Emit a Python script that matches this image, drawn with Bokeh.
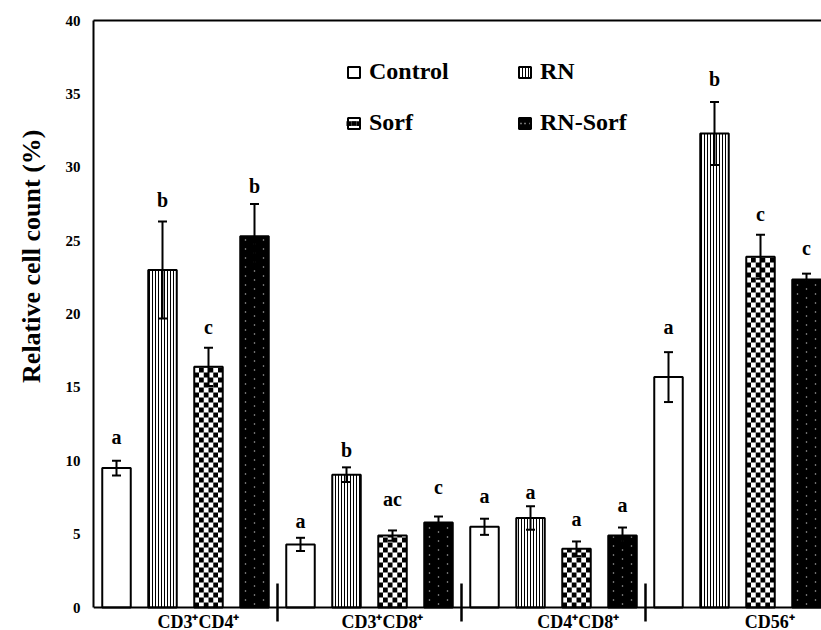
from bokeh.core.properties import value
from bokeh.embed import file_html
from bokeh.models import (ColumnDataSource, FixedTicker, Legend, LegendItem, LinearAxis,
                          Range1d, Span, TeeHead, Title, Whisker)
from bokeh.plotting import figure
from bokeh.resources import INLINE

# ---------------- data ----------------
groups = ["CD3⁺CD4⁺", "CD3⁺CD8⁺", "CD4⁺CD8⁺", "CD56⁺"]
series = ["Control", "RN", "Sorf", "RN-Sorf"]

control = [9.5, 4.3, 5.5, 15.7]
control_err = [0.5, 0.45, 0.55, 1.7]
rn = [23.0, 9.05, 6.1, 32.3]
rn_err = [3.3, 0.5, 0.8, 2.15]
sorf = [16.4, 4.9, 4.0, 23.9]
sorf_err = [1.3, 0.35, 0.5, 1.5]
rnsorf = [25.3, 5.8, 4.9, 22.35]
rnsorf_err = [2.2, 0.4, 0.55, 0.4]

control_sig = ["a", "a", "a", "a"]
rn_sig = ["b", "b", "a", "b"]
sorf_sig = ["c", "ac", "a", "c"]
rnsorf_sig = ["b", "c", "a", "c"]

# heights (in y units) at which the significance letters sit
control_sig_y = [11.6, 5.9, 7.6, 19.1]
rn_sig_y = [27.8, 10.7, 7.85, 36.0]
sorf_sig_y = [19.1, 7.4, 6.05, 26.8]
rnsorf_sig_y = [28.7, 8.2, 7.0, 24.5]

y_ticks = [0, 5, 10, 15, 20, 25, 30, 35, 40]

# --------------- layout constants ---------------
FONT = "Liberation Serif"
PX_PER_X = 46             # one bar slot in pixels
PX_PER_Y = 14.675         # one y unit in pixels
W, H = 821, 630
LEFT, TOP = 93, 20
FRAME_W = W - LEFT
FRAME_H = H - TOP
BAR_PX = 28.5
BAR_W = BAR_PX / PX_PER_X
label_pos = [2.28, 6.28, 10.54, 14.70]   # category label positions (slot units)
sep_pos = [4, 8, 12]                       # separators between groups

y_min = 40 - FRAME_H / PX_PER_Y            # room below zero for the category labels

p = figure(width=W, height=H, output_backend="svg", toolbar_location=None,
           x_range=Range1d(0, FRAME_W / PX_PER_X), y_range=Range1d(y_min, 40),
           min_border_left=LEFT, min_border_right=0, min_border_top=TOP,
           min_border_bottom=0)
p.xgrid.visible = False
p.ygrid.visible = False
p.outline_line_color = None
p.background_fill_color = "white"
p.border_fill_color = "white"

data = [
    (control, control_err, control_sig, control_sig_y),
    (rn, rn_err, rn_sig, rn_sig_y),
    (sorf, sorf_err, sorf_sig, sorf_sig_y),
    (rnsorf, rnsorf_err, rnsorf_sig, rnsorf_sig_y),
]


def pattern_columns(xs, tops, n_cols, col_px, parity):
    """Columns of a fill pattern inside each bar (x from bar centre, height = bar top)."""
    x0, y0, y1 = [], [], []
    for x, t in zip(xs, tops):
        for j in range(n_cols):
            if j % 2 == parity:
                x0.append(x + (j - (n_cols - 1) / 2) * col_px / PX_PER_X)
                y0.append(0)
                y1.append(t)
    return ColumnDataSource(dict(x=x0, y0=y0, y1=y1))


legend_renderers = {}
for k, (name, (vals, errs, sig, sig_y)) in enumerate(zip(series, data)):
    xs = [g * 4 + k + 0.5 for g in range(len(groups))]
    src = ColumnDataSource(dict(
        x=xs, top=vals,
        upper=[v + e for v, e in zip(vals, errs)],
        lower=[v - e for v, e in zip(vals, errs)],
        sig=sig, sig_y=sig_y,
    ))
    rs = []
    if name == "RN":
        rs.append(p.vbar(x="x", top="top", bottom=0, width=BAR_W, source=src,
                         fill_color="white", line_color=None,
                         hatch_pattern="vertical_line", hatch_scale=3,
                         hatch_weight=1, hatch_color="black"))
    elif name == "Sorf":
        rs.append(p.vbar(x="x", top="top", bottom=0, width=BAR_W, source=src,
                         fill_color="white", line_color=None))
        sq = BAR_PX / 6
        for parity, off in ((0, 0), (1, 5)):
            rs.append(p.segment(x0="x", y0="y0", x1="x", y1="y1",
                                source=pattern_columns(xs, vals, 6, sq, parity),
                                line_color="black", line_width=sq,
                                line_dash="5 5", line_dash_offset=off))
    elif name == "RN-Sorf":
        rs.append(p.vbar(x="x", top="top", bottom=0, width=BAR_W, source=src,
                         fill_color="black", line_color=None))
        for parity, off in ((0, 2), (1, 6)):
            rs.append(p.segment(x0="x", y0="y0", x1="x", y1="y1",
                                source=pattern_columns(xs, vals, 3, 9, parity),
                                line_color="#dddddd", line_width=1.3,
                                line_dash="1 8", line_dash_offset=off))
    else:
        rs.append(p.vbar(x="x", top="top", bottom=0, width=BAR_W, source=src,
                         fill_color="white", line_color=None))
    # outline on top of the pattern
    rs.append(p.vbar(x="x", top="top", bottom=0, width=BAR_W, source=src,
                     fill_color=None, line_color="black", line_width=2))
    legend_renderers[name] = rs

    w = Whisker(source=src, base="x", upper="upper", lower="lower",
                line_color="black", line_width=2, level="annotation",
                upper_head=TeeHead(size=9, line_width=2, line_color="black"),
                lower_head=TeeHead(size=9, line_width=2, line_color="black"))
    p.add_layout(w)
    p.text(x="x", y="sig_y", text="sig", source=src, text_font=value(FONT),
           text_font_style="bold", text_font_size="20px", text_align="center",
           text_baseline="middle", text_color="black")

# ---------------- axes ----------------
p.yaxis.ticker = FixedTicker(ticks=y_ticks)
p.yaxis.bounds = (0, 40)
p.yaxis.major_tick_line_color = None
p.yaxis.minor_tick_line_color = None
p.yaxis.major_tick_out = 0
p.yaxis.major_tick_in = 0
p.yaxis.axis_line_width = 2
p.yaxis.axis_line_color = "black"
p.yaxis.major_label_text_font = FONT
p.yaxis.major_label_text_font_style = "bold"
p.yaxis.major_label_text_font_size = "15px"
p.yaxis.major_label_text_color = "black"
p.yaxis.major_label_standoff = 13

# y title, placed in the left border
p.add_layout(Title(text="Relative cell count (%)", align="right", offset=109,
                   vertical_align="top", standoff=29, text_font=FONT,
                   text_font_style="bold", text_font_size="26px",
                   text_color="black"), "left")

p.xaxis.visible = False
p.add_layout(Span(location=0, dimension="width", line_color="black", line_width=2))

top_axis = LinearAxis(ticker=FixedTicker(ticks=[]), axis_line_width=2,
                      axis_line_color="black", major_tick_line_color=None,
                      minor_tick_line_color=None, major_tick_out=0,
                      major_label_text_font_size="0px")
p.add_layout(top_axis, "above")

# group separators and category labels (below the zero line)
sep_src = ColumnDataSource(dict(x=sep_pos))
p.segment(x0="x", y0=-14 / PX_PER_Y, x1="x", y1=24 / PX_PER_Y, source=sep_src,
          line_color="black", line_width=2.5)
p.text(x=label_pos, y=[-14 / PX_PER_Y] * len(label_pos), text=groups,
       text_font=value(FONT), text_font_style="bold", text_font_size="18px",
       text_align="center", text_baseline="middle", text_color="black")

# ---------------- legend ----------------
legend = Legend(
    items=[LegendItem(label=s, renderers=legend_renderers[s])
           for s in ["Control", "Sorf", "RN", "RN-Sorf"]],
    ncols=2, orientation="vertical",
    location=(253, 494), padding=0, margin=0, spacing=24,
    glyph_width=15, glyph_height=14, label_standoff=8, label_width=124,
    label_text_font=FONT, label_text_font_style="bold", label_text_font_size="24px",
    label_text_color="black", border_line_color=None, background_fill_alpha=0,
)
p.add_layout(legend, "center")

open("out.html", "w").write(file_html(p, INLINE))
